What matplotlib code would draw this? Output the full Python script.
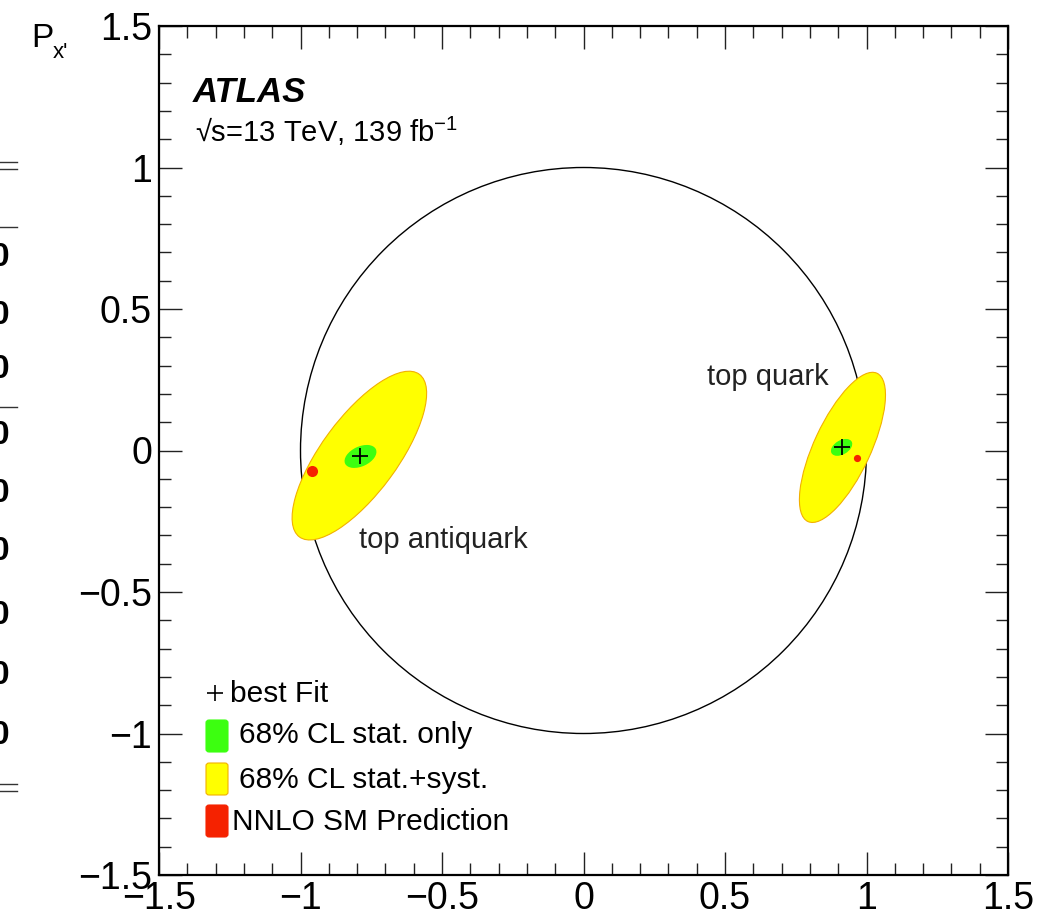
import matplotlib
matplotlib.use("Agg")
import matplotlib.pyplot as plt
from matplotlib.patches import Ellipse, Circle, FancyBboxPatch
from matplotlib.ticker import FixedLocator, MultipleLocator
from matplotlib.lines import Line2D

plt.rcParams['font.family'] = ['Liberation Sans', 'DejaVu Sans']
plt.rcParams['mathtext.fontset'] = 'custom'
plt.rcParams['mathtext.rm'] = 'Liberation Sans'
plt.rcParams['mathtext.it'] = 'Liberation Sans:italic'

# measured values
labels = ["top antiquark", "top quark"]
best_fit_x = [-0.788, 0.912]
best_fit_y = [-0.021, 0.014]
# 68% CL stat.+syst. ellipses: centre, semi-axes, angle (deg)
syst_x = [-0.792, 0.915]
syst_y = [-0.018, 0.011]
syst_a = [0.357, 0.289]
syst_b = [0.134, 0.100]
syst_ang = [53.6, 65.0]
# 68% CL stat. only ellipses
stat_x = [-0.788, 0.912]
stat_y = [-0.021, 0.011]
stat_a = [0.060, 0.041]
stat_b = [0.035, 0.025]
stat_ang = [25.0, 30.0]
# NNLO SM prediction
sm_x = [-0.958, 0.965]
sm_y = [-0.074, -0.025]
sm_size = [8.0, 5.2]

label_x = [-0.792, 0.435]
label_y = [-0.343, 0.23]

ticks = [-1.5, -1, -0.5, 0, 0.5, 1, 1.5]
tick_labels = ["\u22121.5", "\u22121", "\u22120.5", "0", "0.5", "1", "1.5"]

legend_text = ["best Fit", "68% CL stat. only", "68% CL stat.+syst.", "NNLO SM Prediction"]

GREEN = "#3cff10"
YELLOW = "#ffff00"
YEDGE = "#f2b000"
RED = "#f52200"

W, H = 1054, 919
fig = plt.figure(figsize=(W / 100, H / 100), dpi=100)


def fx(px):
    return px / W


def fy(py):
    return 1 - py / H


ax = fig.add_axes([fx(159), fy(875), 849 / W, 849 / H])
ax.set_xlim(-1.5, 1.5)
ax.set_ylim(-1.5, 1.5)

ax.add_patch(Circle((0, 0), 1.0, fill=False, ec='black', lw=1.0, zorder=1))

for i in range(2):
    ax.add_patch(Ellipse((syst_x[i], syst_y[i]), 2 * syst_a[i], 2 * syst_b[i], angle=syst_ang[i],
                         fc=YELLOW, ec=YEDGE, lw=0.8, zorder=2))
    ax.add_patch(Ellipse((stat_x[i], stat_y[i]), 2 * stat_a[i], 2 * stat_b[i], angle=stat_ang[i],
                         fc=GREEN, ec='none', zorder=3))
    ax.plot(sm_x[i], sm_y[i], 'o', color=RED, ms=sm_size[i], mec='none', zorder=4)
    ax.plot(best_fit_x[i], best_fit_y[i], '+', color='black', ms=11, mew=1.3, zorder=5)
    ax.text(label_x[i], label_y[i], labels[i], fontsize=21, va='baseline', ha='left', color='#222222')

ax.xaxis.set_major_locator(FixedLocator(ticks))
ax.yaxis.set_major_locator(FixedLocator(ticks))
ax.set_xticklabels(tick_labels)
ax.set_yticklabels(tick_labels)
ax.xaxis.set_minor_locator(MultipleLocator(0.1))
ax.yaxis.set_minor_locator(MultipleLocator(0.1))
ax.tick_params(which='both', direction='in', top=True, right=True, width=1.0, color='#222222')
ax.tick_params(which='major', length=16.5, labelsize=27)
ax.tick_params(which='minor', length=8.6)
ax.tick_params(axis='x', pad=4)
ax.tick_params(axis='y', pad=5)
for s in ax.spines.values():
    s.set_linewidth(1.6)

# axis title
fig.text(fx(31), fy(47), "P", fontsize=24, va='baseline', ha='left')
fig.text(fx(53), fy(58), "x'", fontsize=16, va='baseline', ha='left')

# ATLAS label
fig.text(fx(193), fy(102), "ATLAS", fontsize=25, fontweight='bold', fontstyle='italic', va='baseline')
fig.text(fx(195), fy(142), "\u221as=13 TeV, 139 fb$^{-1}$", fontsize=21, va='baseline')

# legend
fig.add_artist(Line2D([fx(215)], [fy(693)], marker='+', color='black', ms=11, mew=1.2))
fig.text(fx(230), fy(702), legend_text[0], fontsize=21.5, va='baseline')
boxes = [(720, GREEN, GREEN), (763, YELLOW, YEDGE), (805, RED, RED)]
text_x = [239, 239, 232]
text_base = [743, 788, 830]
for j, (top, fc, ec) in enumerate(boxes):
    fig.add_artist(FancyBboxPatch((fx(206), fy(top + 32)), 22 / W, 32 / H,
                                  boxstyle="round,pad=0,rounding_size=0.003",
                                  fc=fc, ec=ec, lw=0.8, transform=fig.transFigure))
    fig.text(fx(text_x[j]), fy(text_base[j]), legend_text[j + 1], fontsize=21.5, va='baseline')

# cropped fragments of the neighbouring panel at the left edge
frag_zeros = [258, 315, 370, 436, 494, 552, 616, 676, 735]
for yy in frag_zeros:
    fig.text(0.0, fy(yy), "0", fontsize=24, fontweight='bold', ha='center', va='center')
for yy in [162, 169, 784, 791]:
    fig.add_artist(Line2D([0, fx(17)], [fy(yy), fy(yy)], color='#333333', lw=1.0))
for yy in [227, 407]:
    fig.add_artist(Line2D([0, fx(17)], [fy(yy), fy(yy)], color='#333333', lw=1.0))

fig.savefig("out.png", dpi=100)
